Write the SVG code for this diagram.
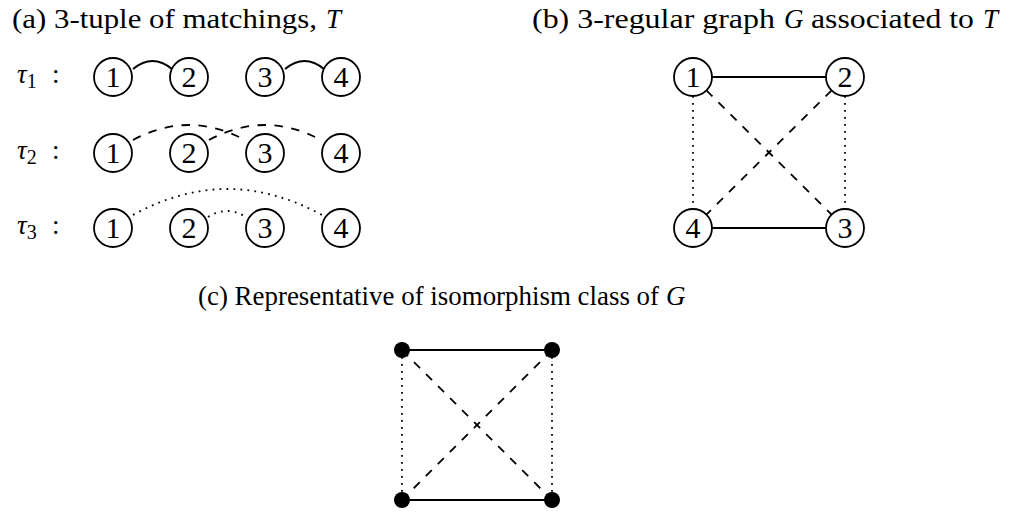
<svg xmlns="http://www.w3.org/2000/svg" width="1015" height="512" viewBox="0 0 1015 512">
<style>
  .t { font-family: "Liberation Serif", "DejaVu Serif", serif; font-size: 27px; fill: #000; }
  .it { font-style: italic; }
  .lbl { font-family: "Liberation Serif", "DejaVu Serif", serif; font-size: 30px; fill: #000; text-anchor: middle; }
  .node { fill: #fff; stroke: #000; stroke-width: 1.8; }
  .dot { fill: #000; }
  .e { fill: none; stroke: #000; stroke-width: 1.8; }
  .solid { }
  .dashed { stroke-dasharray: 8.5 8.5; }
  .dotted { stroke-dasharray: 1.8 5.2; }
</style>
<rect width="1015" height="512" fill="#fff"/>

<!-- Titles -->
<g id="title-a">
  <text class="t" x="12" y="28" textLength="305" lengthAdjust="spacingAndGlyphs">(a) 3-tuple of matchings,</text>
  <text class="t it" x="326" y="28">T</text>
</g>
<g id="title-b">
  <text class="t" x="532" y="28" textLength="243" lengthAdjust="spacingAndGlyphs">(b) 3-regular graph</text>
  <text class="t it" x="784" y="28">G</text>
  <text class="t" x="811" y="28" textLength="163" lengthAdjust="spacingAndGlyphs">associated to</text>
  <text class="t it" x="983" y="28">T</text>
</g>
<g id="title-c">
  <text class="t" x="198" y="305" textLength="461" lengthAdjust="spacingAndGlyphs">(c) Representative of isomorphism class of</text>
  <text class="t it" x="666" y="305">G</text>
</g>

<!-- Row labels -->
<g id="tau1"><text class="t it" x="17" y="83" font-size="30">τ<tspan font-size="20" font-style="normal" dy="5">1</tspan></text><text class="t" x="52" y="83">:</text></g>
<g id="tau2"><text class="t it" x="17" y="159" font-size="30">τ<tspan font-size="20" font-style="normal" dy="5">2</tspan></text><text class="t" x="52" y="159">:</text></g>
<g id="tau3"><text class="t it" x="17" y="234" font-size="30">τ<tspan font-size="20" font-style="normal" dy="5">3</tspan></text><text class="t" x="52" y="234">:</text></g>

<!-- Connectors -->
<g id="connectors">
  <!-- (a) -->
  <path class="e solid" d="M133,69 Q152.5,53 172,69"/>
  <path class="e solid" d="M285,69 Q304.5,53 324,69"/>
  <path class="e dashed" d="M133,140 Q189,110 245,140"/>
  <path class="e dashed" d="M209,140 Q265,110 321,140"/>
  <path class="e dotted" d="M133,215 Q227,163 322,215"/>
  <path class="e dotted" d="M208,217 Q227,205 246,217"/>
  <!-- (b) -->
  <line class="e solid" x1="712" y1="77" x2="826" y2="77"/>
  <line class="e solid" x1="712" y1="228" x2="826" y2="228"/>
  <line class="e dotted" x1="693" y1="96" x2="693" y2="209"/>
  <line class="e dotted" x1="845" y1="96" x2="845" y2="209"/>
  <line class="e dashed" x1="706.4" y1="90.4" x2="831.6" y2="214.6"/>
  <line class="e dashed" x1="831.6" y1="90.4" x2="706.4" y2="214.6"/>
  <!-- (c) -->
  <line class="e solid" x1="402" y1="350" x2="552" y2="350"/>
  <line class="e solid" x1="402" y1="500" x2="552" y2="500"/>
  <line class="e dotted" x1="402" y1="350" x2="402" y2="500"/>
  <line class="e dotted" x1="552" y1="350" x2="552" y2="500"/>
  <line class="e dashed" x1="402" y1="350" x2="552" y2="500"/>
  <line class="e dashed" x1="552" y1="350" x2="402" y2="500"/>
</g>

<!-- (a) nodes -->
<g id="a1-1"><circle class="node" cx="113" cy="77" r="19"/><text class="lbl" x="113" y="87">1</text></g>
<g id="a1-2"><circle class="node" cx="189" cy="77" r="19"/><text class="lbl" x="189" y="87">2</text></g>
<g id="a1-3"><circle class="node" cx="265" cy="77" r="19"/><text class="lbl" x="265" y="87">3</text></g>
<g id="a1-4"><circle class="node" cx="341" cy="77" r="19"/><text class="lbl" x="341" y="87">4</text></g>

<g id="a2-1"><circle class="node" cx="113" cy="153" r="19"/><text class="lbl" x="113" y="163">1</text></g>
<g id="a2-2"><circle class="node" cx="189" cy="153" r="19"/><text class="lbl" x="189" y="163">2</text></g>
<g id="a2-3"><circle class="node" cx="265" cy="153" r="19"/><text class="lbl" x="265" y="163">3</text></g>
<g id="a2-4"><circle class="node" cx="341" cy="153" r="19"/><text class="lbl" x="341" y="163">4</text></g>

<g id="a3-1"><circle class="node" cx="113" cy="228" r="19"/><text class="lbl" x="113" y="238">1</text></g>
<g id="a3-2"><circle class="node" cx="189" cy="228" r="19"/><text class="lbl" x="189" y="238">2</text></g>
<g id="a3-3"><circle class="node" cx="265" cy="228" r="19"/><text class="lbl" x="265" y="238">3</text></g>
<g id="a3-4"><circle class="node" cx="341" cy="228" r="19"/><text class="lbl" x="341" y="238">4</text></g>

<!-- (b) nodes -->
<g id="b1"><circle class="node" cx="693" cy="77" r="19"/><text class="lbl" x="693" y="87">1</text></g>
<g id="b2"><circle class="node" cx="845" cy="77" r="19"/><text class="lbl" x="845" y="87">2</text></g>
<g id="b3"><circle class="node" cx="845" cy="228" r="19"/><text class="lbl" x="845" y="238">3</text></g>
<g id="b4"><circle class="node" cx="693" cy="228" r="19"/><text class="lbl" x="693" y="238">4</text></g>

<!-- (c) nodes -->
<g id="c1"><circle class="dot" cx="402" cy="350" r="8"/></g>
<g id="c2"><circle class="dot" cx="552" cy="350" r="8"/></g>
<g id="c3"><circle class="dot" cx="552" cy="500" r="8"/></g>
<g id="c4"><circle class="dot" cx="402" cy="500" r="8"/></g>
</svg>
